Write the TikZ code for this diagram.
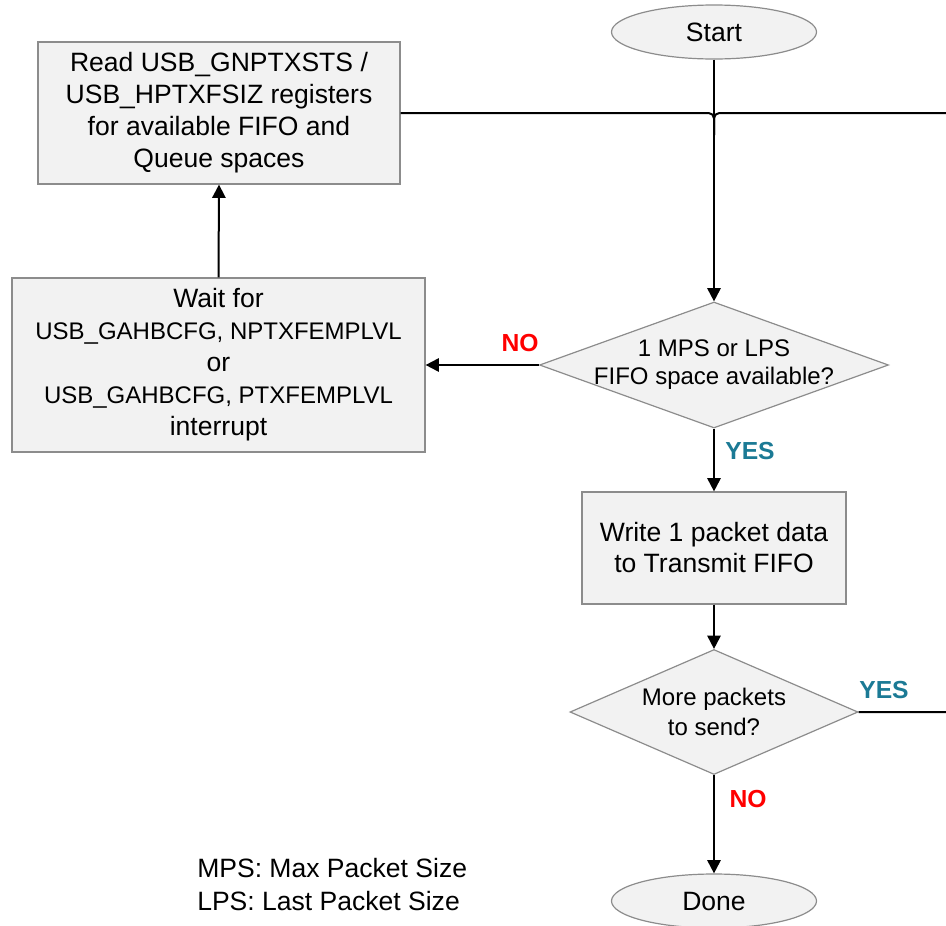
\documentclass[tikz,border=0pt]{standalone}
\usepackage{fontspec}
\setmainfont{Liberation Sans}
\usetikzlibrary{arrows.meta,shapes.geometric}
\definecolor{boxfill}{HTML}{F2F2F2}
\definecolor{boxline}{HTML}{8C8C8C}
\definecolor{yesteal}{HTML}{1B7A95}
\definecolor{nored}{HTML}{FF0000}

\newcommand{\bigtxt}{\fontsize{19.9}{24}\selectfont}
\newcommand{\smalltxt}{\fontsize{18}{24}\selectfont}

\tikzset{
  procbox/.style={draw=boxline,fill=boxfill,line width=0.9pt,inner sep=0pt,align=center},
  terminal/.style={ellipse,draw=boxline,fill=boxfill,line width=0.9pt,inner sep=0pt,
    minimum width=153.75pt,minimum height=40.5pt,font=\bigtxt},
  decision/.style={diamond,draw=boxline,fill=boxfill,line width=0.9pt,inner sep=0pt},
  flow/.style={line width=1.5pt,-{Triangle[length=10pt,width=10pt]}},
  link/.style={line width=1.5pt,rounded corners=4pt},
  yes/.style={text=yesteal,font=\bfseries\fontsize{18.5}{22}\selectfont},
  no/.style={text=nored,font=\bfseries\fontsize{18.5}{22}\selectfont},
}

\begin{document}
\begin{tikzpicture}[x=0.75pt,y=-0.75pt]
  \clip (0,0) rectangle (946,925);
  \useasboundingbox (0,0) rectangle (946,925);

  % shapes
  \node[terminal] (start) at (714,32) {Start};
  \node[procbox,minimum width=271.5pt,minimum height=106.5pt,font=\bigtxt] (read) at (219,113)
    {Read USB\_GNPTXSTS /\\USB\_HPTXFSIZ registers\\for available FIFO and\\Queue spaces};
  \node[procbox,minimum width=309.75pt,minimum height=130.5pt,font=\bigtxt] (wait) at (218.5,365)
    {Wait for\\{\smalltxt USB\_GAHBCFG, NPTXFEMPLVL}\\or\\{\smalltxt USB\_GAHBCFG, PTXFEMPLVL}\\interrupt};
  \node[decision,minimum width=261.75pt,minimum height=94.5pt] (d1) at (714,365) {};
  \node[align=center,font=\fontsize{18}{21}\selectfont] (d1txt) at (d1)
    {1 MPS or LPS\\FIFO space available?};
  \node[procbox,minimum width=198pt,minimum height=84pt,
        font=\fontsize{19.9}{23.25}\selectfont] (write) at (714,548)
    {Write 1 packet data\\to Transmit FIFO};
  \node[decision,minimum width=216pt,minimum height=93.75pt] (d2) at (714,712) {};
  \node[align=center,font=\fontsize{18}{22.5}\selectfont] (d2txt) at (d2)
    {More packets\\to send?};
  \node[terminal] (done) at (714,901) {Done};

  % connectors
  \coordinate (j) at (714,135);
  \coordinate (loop) at (956,113);
  \draw[flow] (start) -- (d1);
  \draw[link] (read.east) -| (j);
  \draw[link] (d2.east) -| (loop) -| (j);
  \draw[flow] (d1.west) -- (wait.east);
  \draw[flow] (wait.north) -- (read.south);
  \draw[flow] (d1.south) -- (write.north);
  \draw[flow] (write.south) -- (d2.north);
  \draw[flow] (d2.south) -- (done.north);

  % labels
  \node[no] (no1) at (520,343) {NO};
  \node[yes] (yes1) at (750,451) {YES};
  \node[yes] (yes2) at (884,690) {YES};
  \node[no] (no2) at (748,799) {NO};

  \node[align=left,anchor=west,inner sep=0pt,font=\fontsize{19.9}{24.75}\selectfont]
    (legend) at (197,885) {MPS: Max Packet Size\\LPS: Last Packet Size};
\end{tikzpicture}
\end{document}
